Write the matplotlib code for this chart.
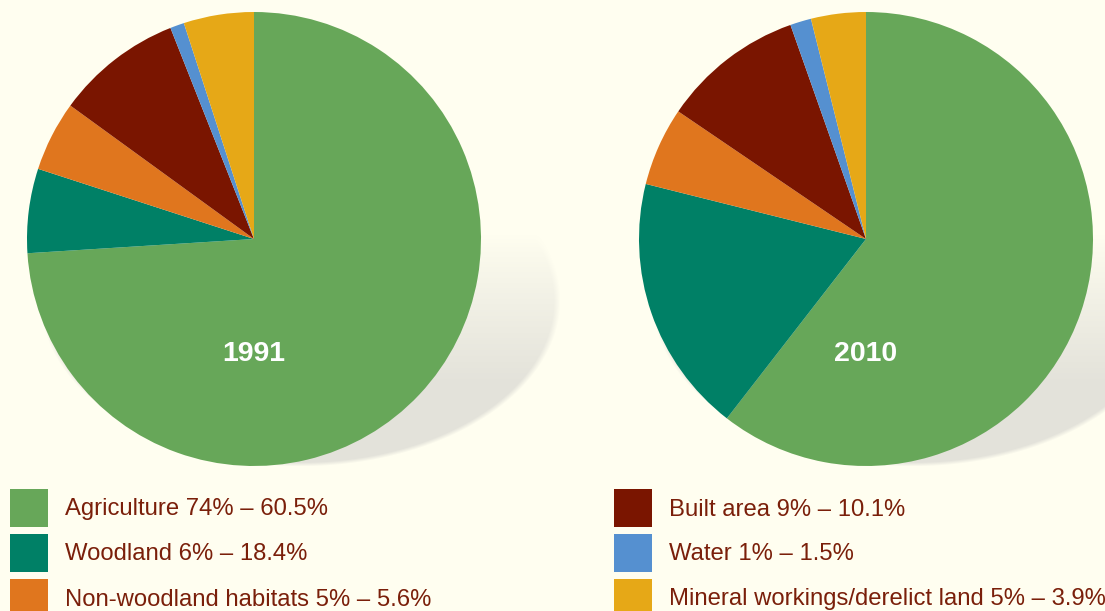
import matplotlib.pyplot as plt
import matplotlib.patches as patches
import numpy as np

# land use shares, clockwise from 12 o'clock
categories = ['Agriculture', 'Woodland', 'Non-woodland habitats', 'Built area',
              'Water', 'Mineral workings/derelict land']
share_1991 = [74, 6, 5, 9, 1, 5]
share_2010 = [60.5, 18.4, 5.6, 10.1, 1.5, 3.9]
legend_labels = ['Agriculture 74% \u2013 60.5%', 'Woodland 6% \u2013 18.4%',
                 'Non-woodland habitats 5% \u2013 5.6%', 'Built area 9% \u2013 10.1%',
                 'Water 1% \u2013 1.5%', 'Mineral workings/derelict land 5% \u2013 3.9%']
years = ['1991', '2010']

colors = ['#67a759', '#008066', '#e0761e', '#7a1500', '#5590d0', '#e6a817']
bg = '#fffef0'
text_col = '#7a1f0a'

W, H = 1105, 611
fig = plt.figure(figsize=(W / 100, H / 100), dpi=100, facecolor=bg)
ax = fig.add_axes([0, 0, 1, 1])
ax.set_facecolor(bg)

centers = [(254, H - 239), (866, H - 239)]
radius = 227

# soft drop shadow: ellipse below-right of each pie, fading towards the top
shadow_rgb = np.array([0xe3, 0xe2, 0xda]) / 255
yy, xx = np.mgrid[0:H, 0:W]
ys = H - yy  # data y for each pixel row (row 0 at top)
alpha = np.zeros((H, W))
for cx, cy in centers:
    sx, sy = cx + 46, cy - 61
    r = np.sqrt(((xx - sx) / 260.0) ** 2 + ((ys - sy) / 166.0) ** 2)
    edge = np.clip((1.0 - r) / 0.025, 0, 1)
    fade = np.clip(((cy + 5) - ys) / 150.0, 0, 1) ** 0.9
    alpha = np.maximum(alpha, edge * fade)
img = np.zeros((H, W, 4))
img[..., :3] = shadow_rgb
img[..., 3] = alpha
ax.imshow(img, extent=(0, W, 0, H), origin='upper', zorder=1, interpolation='bilinear')

for (cx, cy), vals, yr in zip(centers, [share_1991, share_2010], years):
    ax.pie(vals, colors=colors, startangle=90, counterclock=False,
           center=(cx, cy), radius=radius, frame=True,
           wedgeprops=dict(linewidth=0, zorder=2))
    ax.text(cx, H - 354, yr, fontsize=20.5, fontweight='bold', color='white',
            ha='center', va='center', family='Liberation Sans', zorder=5)

# legend
for i, lab in enumerate(legend_labels):
    col, row = divmod(i, 3)
    x0 = 10 if col == 0 else 614
    yc = 508 + row * 45
    ax.add_patch(patches.Rectangle((x0, H - yc - 19), 38, 38, color=colors[i], lw=0))
    ax.text(x0 + 55, H - yc - 1.5, lab, fontsize=17.2, color=text_col, ha='left',
            va='center', family='Liberation Sans')

ax.set_xlim(0, W)
ax.set_ylim(0, H)
ax.set_aspect('auto')
ax.axis('off')

fig.savefig('out.png', dpi=100, facecolor=bg)
